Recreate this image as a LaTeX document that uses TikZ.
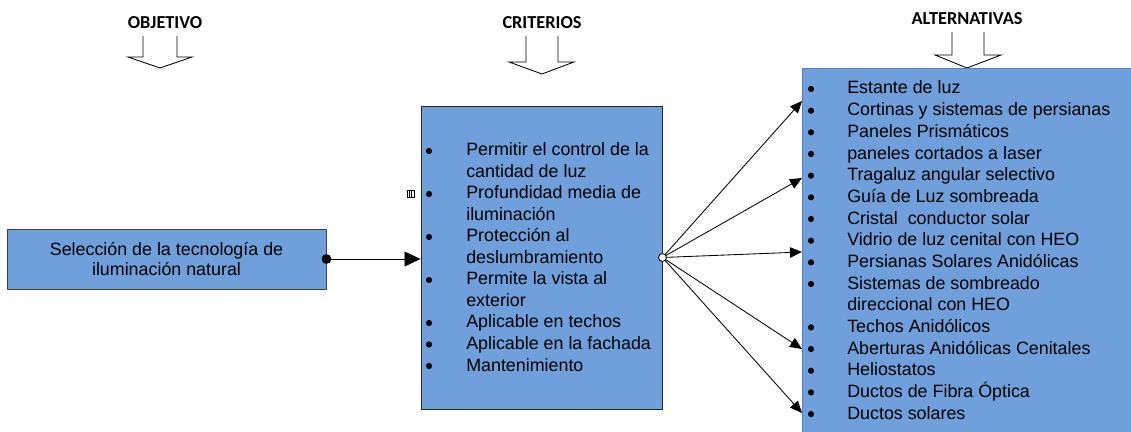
\documentclass[tikz,border=0pt]{standalone}
\usepackage{fontspec}
\setmainfont{Liberation Sans}
\newfontfamily\headfont{Carlito}
\usetikzlibrary{arrows.meta, positioning, calc, shadows}
\definecolor{boxblue}{RGB}{112,160,220}
\definecolor{altline}{RGB}{79,129,189}
\tikzset{
  box/.style={fill=boxblue, inner sep=0pt},
  head/.style={font=\headfont\bfseries\fontsize{13}{15}\selectfont},
  itemtxt/.style={anchor=base west, inner sep=0pt, font=\fontsize{12.7}{15}\selectfont},
  link/.style={-{Triangle[length=0.3cm, width=0.26cm]}, line width=0.6pt},
}
\begin{document}
\begin{tikzpicture}[x=0.025cm, y=-0.025cm, line join=miter]
      \useasboundingbox (0,0) rectangle (1131,432);
      \clip (0,0) rectangle (1131,432);
      % titles
      \node[head] (hobj) at (165,23) {OBJETIVO};
      \node[head] (hcrit) at (542,23) {CRITERIOS};
      \node[head] (halt) at (967,19) {ALTERNATIVAS};
      \draw[line width=0.6pt] (143,36) -- (143,57) -- (128,57) -- (160,68) -- (192,57) -- (177,57) -- (177,36);
      \draw[line width=0.6pt] (526,36) -- (526,62) -- (509,62) -- (542,74) -- (574,62) -- (558,62) -- (558,36);
      \draw[line width=0.6pt] (952,32) -- (952,55) -- (935,55) -- (967,68) -- (1001,55) -- (984,55) -- (984,32);
      % boxes
      \node[box, draw=black!75, line width=0.6pt, minimum width=7.975cm, minimum height=1.5cm,
            drop shadow={shadow xshift=0.6pt, shadow yshift=-0.9pt, fill=black!45},
            align=center, font=\fontsize{12.7}{14.2}\selectfont] (obj) at (166.5,259)
            {Selección de la tecnología de\\iluminación natural};
      \node[box, draw=black!85, line width=0.6pt, minimum width=6.025cm, minimum height=7.575cm,
            drop shadow={shadow xshift=0.6pt, shadow yshift=-0.9pt, fill=black!45}] (crit) at (541.5,257.5) {};
      \node[box, draw=altline, line width=0.6pt, anchor=north west,
            minimum width=8.6cm, minimum height=9.4cm] (alt) at (802,68) {};
      % criteria
      \foreach \b/\t [count=\i from 0] in {1/Permitir el control de la, 0/cantidad de luz,
          1/Profundidad media de, 0/iluminación, 1/Protección al, 0/deslumbramiento,
          1/Permite la vista al, 0/exterior, 1/Aplicable en techos, 1/Aplicable en la fachada,
          1/Mantenimiento}{
        \ifnum\b=1 \fill (429,{151+21.5*\i}) circle (2.2pt); \fi
        \node[itemtxt] at (466,{156+21.5*\i}) {\t};
      }
      % alternatives
      \foreach \b/\t [count=\i from 0] in {1/Estante de luz, 1/Cortinas y sistemas de persianas,
          1/Paneles Prismáticos, 1/paneles cortados a laser, 1/Tragaluz angular selectivo,
          1/Guía de Luz sombreada, 1/Cristal\ \ conductor solar, 1/Vidrio de luz cenital con HEO,
          1/Persianas Solares Anidólicas, 1/Sistemas de sombreado, 0/direccional con HEO,
          1/Techos Anidólicos, 1/Aberturas Anidólicas Cenitales, 1/Heliostatos,
          1/Ductos de Fibra Óptica, 1/Ductos solares}{
        \ifnum\b=1 \fill (811,{89+21.67*\i}) circle (2.2pt); \fi
        \node[itemtxt] at (847,{94+21.67*\i}) {\t};
      }
      % small marker
      \draw[line width=0.5pt] (407,190) rectangle (414,197);
      \draw[line width=0.4pt] (409.3,190) -- (409.3,197);
      \draw[line width=0.4pt] (411.6,190) -- (411.6,197);
      \draw[line width=1pt] (407,190.5) -- (414,190.5);
      % connectors
      \draw[-{Triangle[length=0.4cm, width=0.37cm]}, line width=0.6pt] (obj.east) -- (crit.west |- obj.east);
      \fill (obj.east) circle (3.5pt);
      \coordinate (a1) at (802,101);
      \coordinate (a2) at (802,178);
      \coordinate (a3) at (802,252);
      \coordinate (a4) at (802,349);
      \coordinate (a5) at (802,413);
      \foreach \p in {a1,a2,a3,a4,a5}
        \draw[link] (crit.east) -- (\p);
      \draw[line width=0.6pt, fill=white] (crit.east) circle (2.8pt);
    \end{tikzpicture}
\end{document}
